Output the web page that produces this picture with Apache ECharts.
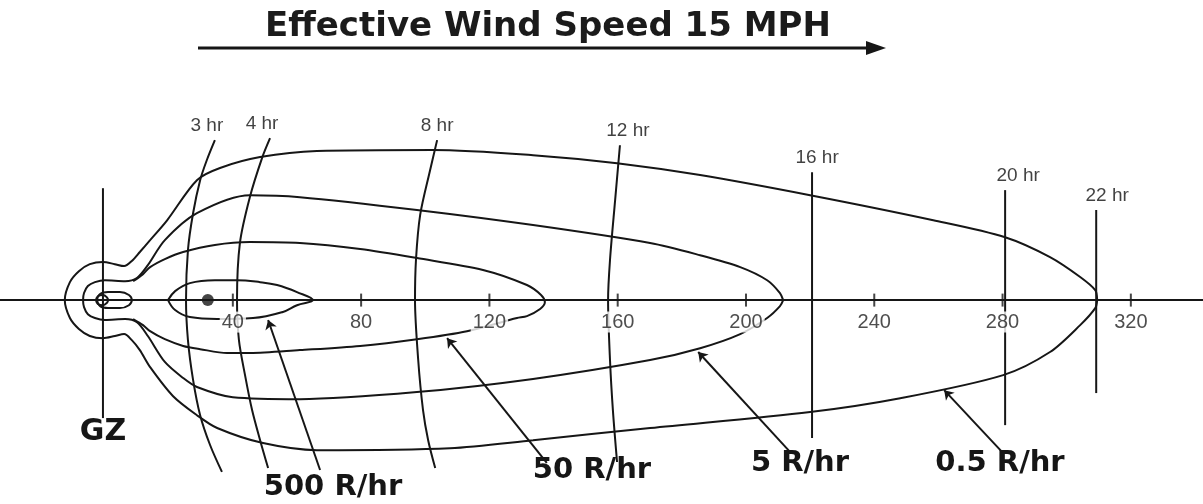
<!DOCTYPE html>
<html>
<head>
<meta charset="utf-8">
<script src="https://cdn.jsdelivr.net/npm/echarts@6/dist/echarts.min.js"></script>
<style>
  html, body { margin: 0; padding: 0; background: #fff; }
  #chart { width: 1203px; height: 504px; }
</style>
</head>
<body>
<div id="chart"></div>
<script>
// distance downwind from GZ (miles) on the x axis, crosswind distance on y
const xTicks = [40, 80, 120, 160, 200, 240, 280, 320]

// dose-rate contours
const contour05 = [[309.5,0],[308.9,3.1],[304.2,7.2],[294.8,13.4],[280.8,19.6],[258.4,24.9],[220.0,32.7],[185.7,39.0],[159.8,42.7],[133.6,45.2],[102.4,46.8],[66.2,46.5],[48.5,44.6],[36.0,41.2],[28.8,37.4],[19.5,24.9],[14.2,18.7],[11.0,15.0],[8.5,12.2],[6.1,10.6],[3.2,11.2],[-0.5,11.9],[-4.6,11.2],[-8.0,9.0],[-10.8,5.6],[-12.4,0],[-10.8,-5.6],[-8.0,-9.0],[-4.6,-11.2],[-0.5,-11.9],[3.2,-11.2],[6.1,-10.6],[8.5,-12.5],[11.0,-15.6],[14.2,-20.9],[21.3,-29.9],[28.8,-35.9],[35.1,-39.9],[49.4,-44.6],[66.2,-46.8],[107.7,-46.2],[133.6,-43.7],[170.1,-39.9],[220.0,-34.9],[248.1,-30.6],[280.2,-23.4],[294.8,-16.2],[304.2,-7.8],[308.9,-2.5],[309.5,0]]
const contour5 = [[211.6,0],[210.6,2.2],[206.6,6.2],[198.2,10.3],[185.7,14.0],[170.1,17.8],[133.6,23.4],[97.4,28.1],[60.9,32.1],[45.3,32.7],[28.8,27.1],[18.8,18.7],[13.5,10.9],[10.1,6.9],[6.4,5.9],[0.1,6.2],[-3.0,5.6],[-5.2,4.4],[-6.4,2.2],[-6.7,0],[-6.4,-2.2],[-5.2,-4.4],[-3.0,-5.6],[0.1,-6.2],[6.4,-5.9],[10.1,-6.9],[13.5,-11.2],[18.8,-19.3],[24.5,-24.3],[28.8,-27.1],[40.0,-30.3],[60.9,-30.9],[97.4,-28.7],[133.6,-24.6],[170.1,-18.7],[185.7,-15.0],[198.2,-10.6],[206.6,-5.6],[210.6,-1.9],[211.6,0]]
const contour50 = [[8.9,5.9],[12.0,8.1],[14.2,10.3],[18.8,12.8],[24.5,15.0],[34.4,17.2],[45.3,18.1],[60.9,17.8],[79.7,15.9],[97.4,13.1],[118.0,9.4],[131.7,4.7],[136.1,1.6],[137.3,-0.6],[135.8,-2.8],[131.7,-5.0],[128.6,-5.6],[113.0,-9.7],[97.4,-12.2],[79.7,-14.3],[60.9,-15.6],[45.3,-16.5],[38.2,-16.5],[29.8,-15.3],[24.5,-14.3],[18.8,-12.2],[14.2,-9.7],[12.0,-7.8],[8.9,-5.9]]
const plume500 = [[19.8,0],[22.0,2.8],[26.6,5.3],[34.4,6.2],[41.3,6.2],[48.5,5.6],[53.8,4.7],[60.0,2.5],[65.0,0],[60.0,-1.6],[55.6,-3.7],[46.3,-5.6],[35.1,-5.9],[26.6,-5.3],[22.0,-3.1],[19.8,0]]
const core500 = [[-2.4,0],[-1.4,1.9],[1.1,2.5],[4.8,2.5],[7.6,1.6],[8.5,0],[7.6,-1.6],[4.8,-2.5],[1.1,-2.5],[-1.4,-1.9],[-2.4,0]]
const inner500 = [[-2.7,0],[-2.1,1.2],[-0.5,1.6],[0.7,0.9],[1.1,0],[0.7,-0.9],[-0.5,-1.6],[-2.1,-1.2],[-2.7,0]]
const hotSpot = [[32.2, 0]]

// arrival-time lines
const hourNames = ['3 hr', '4 hr', '8 hr', '12 hr', '16 hr', '20 hr', '22 hr']
const hour3 = [[34.4,49.9],[31.9,43.7],[29.8,37.4],[27.6,27.1],[26.0,15.6],[25.4,0],[26.0,-12.5],[27.6,-24.9],[29.8,-35.9],[32.9,-45.2],[36.6,-53.6]]
const hour4 = [[51.6,50.5],[49.1,44.3],[45.3,32.1],[42.2,17.8],[41.3,0],[41.9,-12.5],[43.8,-23.4],[46.0,-34.3],[48.5,-43.7],[51.0,-52.4]]
const hour8 = [[103.7,49.9],[101.5,40.5],[98.4,26.5],[97.1,12.5],[96.8,0],[97.8,-18.7],[99.3,-34.3],[100.9,-43.7],[103.1,-52.4]]
const hour12 = [[160.7,48.3],[159.2,31.2],[157.6,12.5],[157.0,0],[157.6,-18.7],[158.5,-34.3],[159.8,-50.5]]
const hour16 = [[220.6,39.9],[220.6,-43.0]]
const hour20 = [[280.8,34.3],[280.8,-39.0]]
const hour22 = [[309.2,28.1],[309.2,-29.0]]
const gzLine = [[-0.5,34.9],[-0.5,-36.8]]

// pointers from the dose-rate labels to their contours (tail, head)
const pointers = [
  [[67.2,-53.0],[51.0,-6.2]],
  [[137.9,-50.8],[106.8,-11.9]],
  [[213.8,-47.4],[185.1,-16.2]],
  [[279.9,-47.4],[261.8,-28.1]]
]

const ink = '#161616'
const hourLines = [hour3, hour4, hour8, hour12, hour16, hour20, hour22]
const hourNudge = [-8, -8, 0, 8, 5, 13, 11]

function contourSeries(data, smooth) {
  return {
    type: 'line',
    data: data,
    smooth: smooth,
    showSymbol: false,
    silent: true,
    lineStyle: { color: ink, width: 2 },
    z: 2
  }
}

const chart = echarts.init(document.getElementById('chart'))
const option = {
  animation: false,
  backgroundColor: '#fff',
  grid: { left: 0, right: 0, top: 0, bottom: 0, containLabel: false, outerBoundsMode: 'none' },
  xAxis: {
    type: 'value',
    min: -32.6,
    max: 342.5,
    z: 6,
    splitLine: { show: false },
    axisLine: { onZero: true, lineStyle: { color: ink, width: 2 } },
    axisTick: { show: false },
    axisLabel: { show: false }
  },
  yAxis: {
    type: 'value',
    min: -63.6,
    max: 93.6,
    axisLine: { show: false },
    axisTick: { show: false },
    axisLabel: { show: false },
    splitLine: { show: false }
  },
  graphic: [
    {
      type: 'text', x: 548, y: 27,
      style: {
        text: 'Effective Wind Speed 15 MPH',
        font: 'bold 34px "DejaVu Sans"', fill: '#1b1b1b',
        textAlign: 'center', textVerticalAlign: 'middle'
      }
    },
    { type: 'line', shape: { x1: 198, y1: 48, x2: 870, y2: 48 }, style: { stroke: ink, lineWidth: 3 } },
    { type: 'polygon', shape: { points: [[866, 41], [886, 48], [866, 55]] }, style: { fill: ink } },
    {
      type: 'text', x: 103, y: 432,
      style: { text: 'GZ', font: 'bold 30px "DejaVu Sans"', fill: ink, textAlign: 'center', textVerticalAlign: 'middle' }
    },
    {
      type: 'text', x: 333, y: 487,
      style: { text: '500 R/hr', font: 'bold 29px "DejaVu Sans"', fill: ink, textAlign: 'center', textVerticalAlign: 'middle' }
    },
    {
      type: 'text', x: 592, y: 470,
      style: { text: '50 R/hr', font: 'bold 29px "DejaVu Sans"', fill: ink, textAlign: 'center', textVerticalAlign: 'middle' }
    },
    {
      type: 'text', x: 800, y: 463,
      style: { text: '5 R/hr', font: 'bold 29px "DejaVu Sans"', fill: ink, textAlign: 'center', textVerticalAlign: 'middle' }
    },
    {
      type: 'text', x: 1000, y: 463,
      style: { text: '0.5 R/hr', font: 'bold 29px "DejaVu Sans"', fill: ink, textAlign: 'center', textVerticalAlign: 'middle' }
    }
  ],
  series: [
    contourSeries(contour05, 0.3),
    contourSeries(contour5, 0.3),
    contourSeries(contour50, 0.3),
    contourSeries(plume500, 0.4),
    contourSeries(core500, 0.4),
    contourSeries(inner500, 0.4),
    ...hourLines.map(d => contourSeries(d, 0.3)),
    contourSeries(gzLine, false),
    {
      // hour labels sit on the top end of each time line
      type: 'scatter',
      symbolSize: 0,
      silent: true,
      data: hourLines.map((d, i) => ({
        value: d[0],
        label: { offset: [hourNudge[i], 0] }
      })),
      label: {
        show: true,
        position: 'top',
        distance: 5,
        formatter: p => hourNames[p.dataIndex],
        fontFamily: 'Liberation Sans',
        fontSize: 19,
        color: '#111'
      }
    },
    {
      // distance ticks cross the axis, their labels mask the lines below
      type: 'scatter',
      symbol: 'rect',
      symbolSize: [2, 13],
      silent: true,
      itemStyle: { color: ink },
      data: xTicks.map(v => [v, 0]),
      label: {
        show: true,
        position: 'bottom',
        distance: 5,
        formatter: p => String(xTicks[p.dataIndex]),
        fontFamily: 'Liberation Sans',
        fontSize: 20,
        color: '#222',
        backgroundColor: '#fff',
        padding: [1, 2, 0, 2]
      },
      z: 7
    },
    {
      type: 'scatter',
      symbolSize: 12,
      silent: true,
      itemStyle: { color: ink },
      data: hotSpot,
      z: 3
    },
    {
      type: 'lines',
      coordinateSystem: 'cartesian2d',
      silent: true,
      symbol: ['none', 'arrow'],
      symbolSize: 9,
      lineStyle: { color: ink, width: 2, opacity: 1 },
      data: pointers.map(p => ({ coords: p })),
      z: 3
    }
  ]
}
chart.setOption(option)
window.addEventListener('resize', () => {
  chart.resize()
})
</script>
</body>
</html>
